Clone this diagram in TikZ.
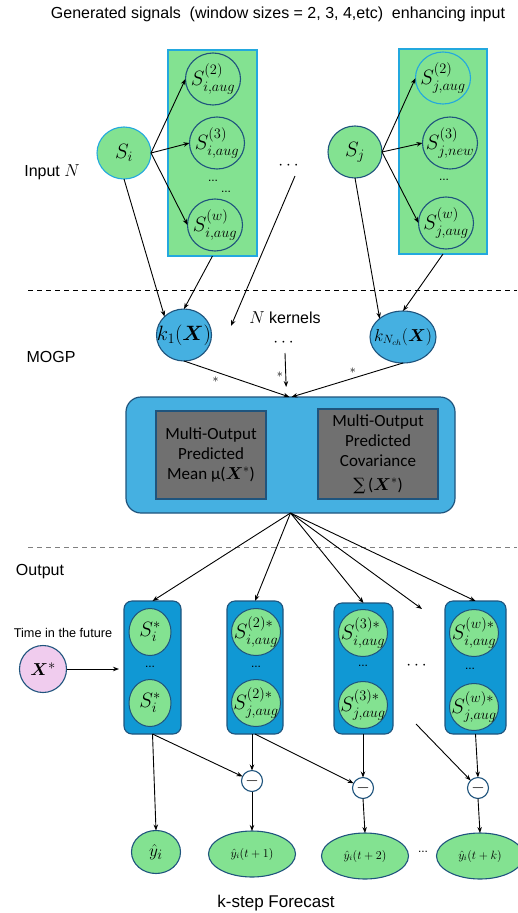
\documentclass[tikz,border=0pt]{standalone}
\usepackage[no-math]{fontspec}
\setmainfont{Liberation Sans}
\newfontfamily\calfont{Carlito}
\newfontfamily\symserif{DejaVu Serif}
\usepackage{amsmath}
\usetikzlibrary{arrows.meta,shapes.geometric}
\definecolor{sgreen}{RGB}{131,226,145}
\definecolor{cyanb}{RGB}{35,168,222}
\definecolor{dkblue}{RGB}{31,84,125}
\definecolor{kblue}{RGB}{69,176,225}
\definecolor{oblue}{RGB}{16,152,212}
\definecolor{gboxc}{RGB}{112,112,112}
\definecolor{pinkc}{RGB}{240,204,238}
\newcommand{\ctrtext}[1]{\makebox[0pt]{#1}}
\begin{document}
\begin{tikzpicture}[x=1pt,y=-1pt,
  every node/.style={inner sep=0pt, outer sep=0pt},
  arr/.style={draw=black, line width=0.9pt, -{Stealth[length=6pt,width=4.5pt]}},
  sepline/.style={line width=0.9pt, dash pattern=on 5pt off 4pt},
  lbl/.style={font=\fontsize{16}{18}\selectfont},
  augbox/.style={rectangle, draw=cyanb, fill=sgreen, line width=1.2pt},
  sig/.style={ellipse, draw=cyanb, fill=sgreen, line width=1.1pt, minimum width=54pt, minimum height=52pt, font=\fontsize{20}{22}\selectfont},
  aug/.style={ellipse, draw=dkblue, fill=sgreen, line width=1.1pt, minimum width=55pt, minimum height=52pt, font=\fontsize{19.5}{22}\selectfont},
  kern/.style={ellipse, draw=dkblue, fill=kblue, line width=1.1pt, minimum width=55pt, minimum height=52pt, font=\fontsize{19.5}{22}\selectfont},
  gbox/.style={rectangle, draw=dkblue, fill=gboxc, line width=1.1pt, align=center, font=\calfont\fontsize{17}{20}\selectfont},
  obox/.style={rectangle, rounded corners=8pt, draw=dkblue, fill=oblue, line width=1.1pt},
  ocirc/.style={ellipse, draw=dkblue, fill=sgreen, line width=1pt, minimum width=49pt, minimum height=47pt, font=\fontsize{19.5}{22}\selectfont},
  mcirc/.style={circle, draw=dkblue, fill=white, line width=1.1pt, minimum size=21pt, font=\fontsize{17}{19}\selectfont},
  yhat/.style={ellipse, draw=dkblue, fill=sgreen, line width=1.1pt, minimum width=87pt, minimum height=46pt, font=\fontsize{12}{14}\selectfont},
  sdots/.style={font=\fontsize{12}{14}\selectfont},
  bdots/.style={font=\fontsize{16}{18}\selectfont, minimum height=20pt}
]
\path[use as bounding box] (0,0) rectangle (517,913);

% title
\node[lbl] (title) at (278,14) {Generated signals\ \ (window sizes = 2, 3, 4,etc)\ \ enhancing input};

% left group
\node[augbox, minimum width=89pt, minimum height=206pt] (boxL) at (212.5,153) {};
\node[aug] (si2) at (213,79) {\ctrtext{$S^{(2)}_{i,aug}$}};
\node[aug] (si3) at (217,143) {\ctrtext{$S^{(3)}_{i,aug}$}};
\node[aug] (siw) at (215,225) {\ctrtext{$S^{(w)}_{i,aug}$}};
\node[sdots] (dL1) at (213,181) {...};
\node[sdots] (dL2) at (226,192) {...};
\node[sig] (si) at (124,153) {\ctrtext{$S_i$}};

% right group
\node[augbox, minimum width=88pt, minimum height=205pt] (boxR) at (443,151.5) {};
\node[aug, draw=cyanb] (sj2) at (443,78) {\ctrtext{$S^{(2)}_{j,aug}$}};
\node[aug] (sj3) at (450,143) {\ctrtext{$S^{(3)}_{j,new}$}};
\node[aug] (sjw) at (446,223) {\ctrtext{$S^{(w)}_{j,aug}$}};
\node[sdots] (dR) at (444,180) {...};
\node[sig, draw=dkblue] (sj) at (355,152) {\ctrtext{$S_j$}};

\node[bdots] (dotsTop) at (290,166) {$\cdots$};
\node[lbl] (inN) at (52,172) {Input $N$};

\draw[arr] (si.east) -- (si2.west);
\draw[arr] (si.east) -- (si3.west);
\draw[arr] (si.east) -- (siw.west);
\draw[arr] (sj.east) -- (sj2.west);
\draw[arr] (sj.east) -- (sj3.west);
\draw[arr] (sj.east) -- (sjw.west);

% separator 1
\coordinate (s1a) at (28,290);
\coordinate (s1b) at (517,290);
\draw[sepline] (s1a) -- (s1b);

% kernels
\node[kern] (k1) at (184,335) {\ctrtext{$k_1(\boldsymbol{X})$}};
\node[kern, minimum width=66pt, font=\fontsize{17}{19}\selectfont] (kN) at (403,337) {\ctrtext{$k_{N_{ch}}(\boldsymbol{X})$}};
\node[lbl] (nker) at (285,318) {$N$ kernels};
\node[bdots] (dotsK) at (285,343) {$\cdots$};
\node[lbl] (mogp) at (51,357) {MOGP};
\coordinate (fe1) at (231,326);

\draw[arr] (si.south) -- (k1.north west);
\draw[arr] (boxL.south) -- (k1.north);
\draw[arr] ([xshift=5pt]dotsTop.south) -- (fe1);
\draw[arr] (sj.south) -- (kN.north west);
\draw[arr] (boxR.south) -- (kN.north);

% big box
\node[rectangle, rounded corners=15pt, draw=dkblue, fill=kblue, line width=1.2pt, minimum width=329pt, minimum height=116pt] (big) at (290.5,455) {};
\node[gbox, minimum width=110pt, minimum height=88pt] (gm) at (211,455) {Multi-Output\\Predicted\\Mean μ($\boldsymbol{X}^{*}$)};
\node[gbox, minimum width=120pt, minimum height=90pt, font=\calfont\fontsize{17}{20}\selectfont] (gc) at (378,454) {Multi-Output\\Predicted\\Covariance\\[4pt]{\symserif ∑}\,($\boldsymbol{X}^{*}$)};

\draw[arr] (k1.south) -- node[pos=0.3, below=5pt, font=\fontsize{12}{14}\selectfont] {$*$} ([xshift=-1pt]big.north);
\draw[arr, shorten >=10pt] (dotsK.south) -- node[pos=0.5, left=3pt, font=\fontsize{12}{14}\selectfont] {$*$} ([xshift=-4pt]big.north);
\draw[arr] (kN.south) -- node[pos=0.45, above=5pt, font=\fontsize{12}{14}\selectfont] {$*$} ([xshift=1pt]big.north);

% separator 2
\coordinate (s2a) at (28,547);
\coordinate (s2b) at (517,547);
\draw[sepline, draw=gray] (s2a) -- (s2b);
\node[lbl] (outp) at (40,572) {Output};

% output boxes
\node[obox, minimum width=57pt, minimum height=133pt] (ob1) at (152.5,667.5) {};
\node[obox, minimum width=56pt, minimum height=133pt] (ob2) at (255,667.5) {};
\node[obox, minimum width=59pt, minimum height=131pt] (ob3) at (363.5,668.5) {};
\node[obox, minimum width=61pt, minimum height=133pt] (ob4) at (475.5,667.5) {};

\node[ocirc, minimum width=42pt] (o1a) at (150,632) {\ctrtext{$S_i^{*}$}};
\node[ocirc, minimum width=42pt] (o1b) at (150,703) {\ctrtext{$S_i^{*}$}};
\node[sdots] (d1) at (150,667) {...};
\node[ocirc] (o2a) at (256,632) {\ctrtext{$S^{(2)*}_{i,aug}$}};
\node[ocirc] (o2b) at (256,703) {\ctrtext{$S^{(2)*}_{j,aug}$}};
\node[sdots] (d2) at (256,667) {...};
\node[ocirc] (o3a) at (363,633) {\ctrtext{$S^{(3)*}_{i,aug}$}};
\node[ocirc] (o3b) at (363,705) {\ctrtext{$S^{(3)*}_{j,aug}$}};
\node[sdots] (d3) at (363,666) {...};
\node[ocirc] (o4a) at (474,633) {\ctrtext{$S^{(w)*}_{i,aug}$}};
\node[ocirc] (o4b) at (474,707) {\ctrtext{$S^{(w)*}_{j,aug}$}};
\node[sdots] (d4) at (470,669) {...};
\node[bdots] (midDots) at (418,666) {$\cdots$};

\coordinate (fo) at (422,609);
\draw[arr] (big.south) -- (ob1.north);
\draw[arr] (big.south) -- (ob2.north);
\draw[arr] (big.south) -- (ob3.north);
\draw[arr] (big.south) -- (fo);
\draw[arr] (big.south) -- (ob4.north);

% time in the future
\node[circle, draw=dkblue, fill=pinkc, line width=1.1pt, minimum size=47pt, font=\fontsize{19}{21}\selectfont] (Xs) at (43,669) {\ctrtext{$\boldsymbol{X}^{*}$}};
\node[font=\fontsize{12.7}{14}\selectfont] (tfut) at (63,633) {Time in the future};
\draw[arr, shorten >=5pt] (Xs.east) -- (Xs.east -| ob1.west);

% minus circles
\node[mcirc] (m1) at (252,781) {\ctrtext{$-$}};
\node[mcirc] (m2) at (363,788) {\ctrtext{$-$}};
\node[mcirc] (m3) at (478,788) {\ctrtext{$-$}};

% forecasts
\node[yhat, minimum width=49pt, minimum height=43pt, font=\fontsize{19}{21}\selectfont] (y0) at (156,852) {\ctrtext{$\hat{y}_i$}};
\node[yhat] (y1) at (252,854) {\ctrtext{$\hat{y}_i(t+1)$}};
\node[yhat] (y2) at (365,856) {\ctrtext{$\hat{y}_i(t+2)$}};
\node[yhat] (yk) at (480,856) {\ctrtext{$\hat{y}_i(t+k)$}};
\node[sdots] (dB) at (423,852) {...};
\node[font=\fontsize{17}{19}\selectfont] (kstep) at (276,903) {k-step Forecast};

\coordinate (fs) at (416,724);
\draw[arr] (ob1.south) -- (y0.north);
\draw[arr] (ob1.south) -- (m1);
\draw[arr] (ob2.south -| m1) -- (m1.north);
\draw[arr] (ob2.south) -- (m2);
\draw[arr] (ob3.south -| m2) -- (m2.north);
\draw[arr] (fs) -- (m3);
\draw[arr] (ob4.south) -- (m3.north);
\draw[arr] (m1.south) -- (y1.north);
\draw[arr] (m2.south) -- (y2.north);
\draw[arr] (m3.south) -- (yk.north);
\end{tikzpicture}
\end{document}
